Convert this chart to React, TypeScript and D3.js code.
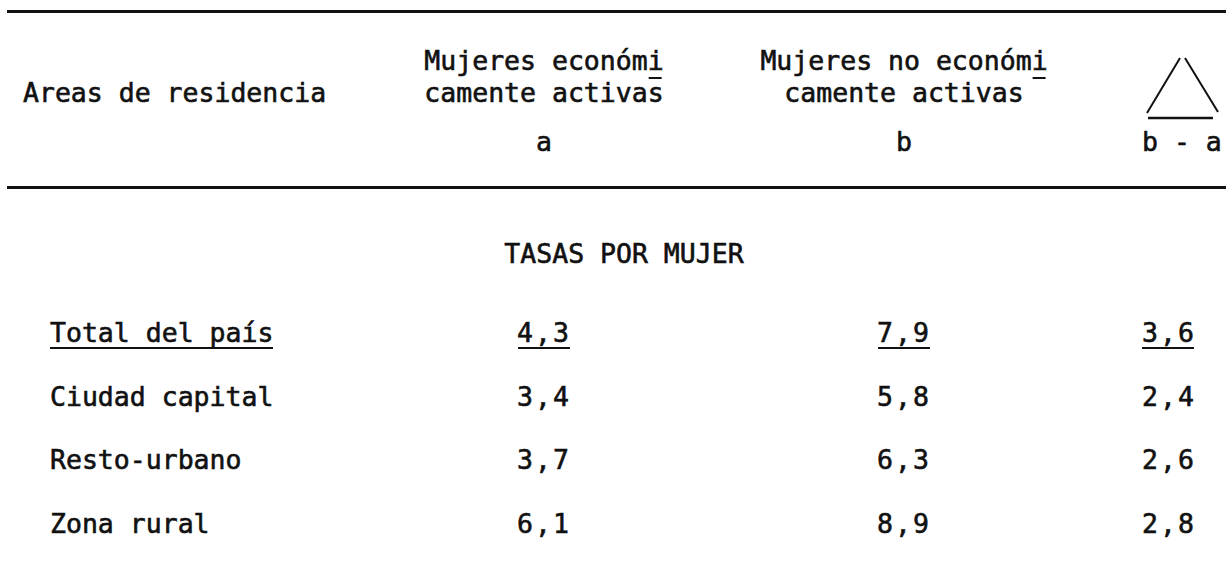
import React from 'react';
import * as d3 from 'd3';

const areas = ['Total del país', 'Ciudad capital', 'Resto-urbano', 'Zona rural'];
const activas = [4.3, 3.4, 3.7, 6.1];
const noActivas = [7.9, 5.8, 6.3, 8.9];
const diferencia = [3.6, 2.4, 2.6, 2.8];

const headerA = ['Mujeres económi', 'camente activas', 'a'];
const headerB = ['Mujeres no económi', 'camente activas', 'b'];
const headerRow = 'Areas de residencia';
const sectionTitle = 'TASAS POR MUJER';

const width = 1226;
const height = 566;
const font = '"DejaVu Sans Mono", "Liberation Mono", monospace';
const ink = '#111';

const es = d3.formatLocale({ decimal: ',', thousands: '.', grouping: [3], currency: ['', ''] });
const fmt = es.format('.1f');

const App = () => {
  const y = d3.scalePoint<string>().domain(areas).range([342, 533]);
  const x = d3.scaleOrdinal<string, number>()
    .domain(['area', 'a', 'b', 'd'])
    .range([50, 544, 904, 1142]);

  const cols = [
    { key: 'a', values: activas, anchor: 'middle' },
    { key: 'b', values: noActivas, anchor: 'middle' },
    { key: 'd', values: diferencia, anchor: 'start' },
  ];

  const fs = 26.5;
  const pitch = fs * 0.602;

  return (
    <svg width={width} height={height} style={{ position: 'absolute', left: 0, top: 0 }}
      fontFamily={font} fontSize={fs} fill={ink} stroke={ink} strokeWidth={0.6}>
      <rect width={width} height={height} fill="#fff" stroke="none" />

      {/* rules */}
      <line x1={7} x2={width} y1={11.5} y2={11.5} stroke={ink} strokeWidth={3} />
      <line x1={7} x2={width} y1={187.5} y2={187.5} stroke={ink} strokeWidth={3} />

      {/* header */}
      <text x={23} y={102}>{headerRow}</text>
      {[headerA, headerB].map((h, i) => {
        const cx = x(i === 0 ? 'a' : 'b');
        const first = h[0].length * pitch;
        return (
          <g key={i}>
            <text x={cx} y={70} textAnchor="middle">{h[0]}</text>
            <line x1={cx + first / 2 - pitch + 1} x2={cx + first / 2 - 2} y1={78} y2={78}
              stroke={ink} strokeWidth={2} />
            <text x={cx} y={102} textAnchor="middle">{h[1]}</text>
            <text x={cx} y={151} textAnchor="middle">{h[2]}</text>
          </g>
        );
      })}

      {/* delta */}
      <path d="M1180,58 L1147,113 M1185,58 L1218,112" fill="none" stroke={ink} strokeWidth={2} />
      <line x1={1148} x2={1213} y1={118} y2={118} stroke={ink} strokeWidth={2.5} />
      <text x={1142} y={151}>b - a</text>

      <text x={624} y={263} textAnchor="middle">{sectionTitle}</text>

      {/* rows */}
      {areas.map((area, i) => (
        <g key={area}>
          <text x={x('area')} y={y(area)}>{area}</text>
          {cols.map(c => (
            <text key={c.key} x={x(c.key)} y={y(area)} textAnchor={c.anchor}
              letterSpacing={2}>{fmt(c.values[i])}</text>
          ))}
        </g>
      ))}

      {/* underline for total row */}
      <line x1={50} x2={273} y1={348} y2={348} stroke={ink} strokeWidth={2} />
      {cols.map(c => {
        const cx = x(c.key);
        const left = c.anchor === 'middle' ? cx - 26 : cx;
        return <line key={c.key} x1={left} x2={left + 52} y1={348} y2={348} stroke={ink} strokeWidth={2} />;
      })}
    </svg>
  );
};

export default App;
